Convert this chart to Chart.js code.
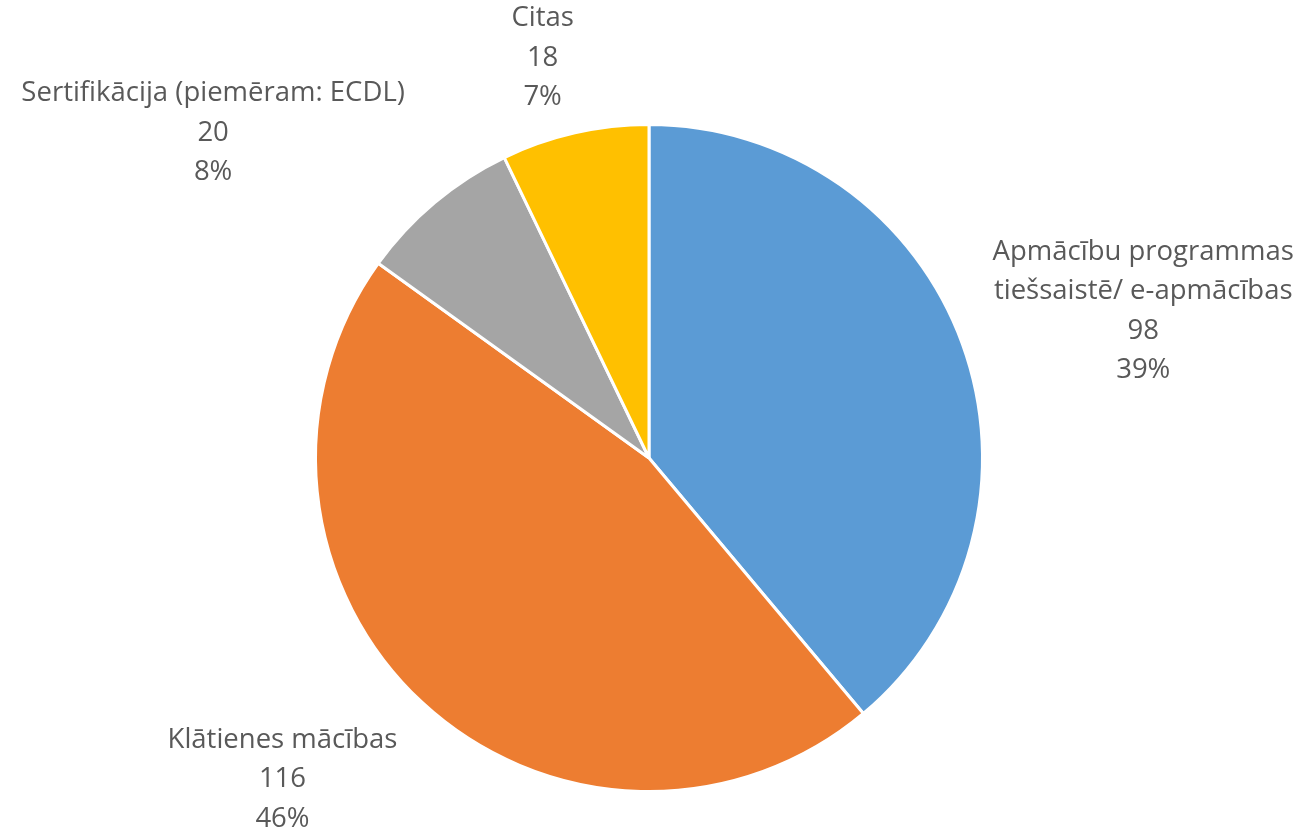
<!DOCTYPE html>
<html>
<head>
<meta charset="utf-8">
<script src="https://cdn.jsdelivr.net/npm/chart.js@4/dist/chart.umd.min.js"></script>
<style>
html,body{margin:0;padding:0;background:#fff;}
#wrap{width:1302px;height:829px;position:relative;}
</style>
</head>
<body>
<div id="wrap"><canvas id="c" width="1302" height="829"></canvas></div>
<script>
const categories = [
  ["Apmācību programmas", "tiešsaistē/ e-apmācības"],
  ["Klātienes mācības"],
  ["Sertifikācija (piemēram: ECDL)"],
  ["Citas"]
];
const values = [98, 116, 20, 18];
const percentLabels = ["39%", "46%", "8%", "7%"];
const colors = ["#5B9BD5", "#ED7D31", "#A5A5A5", "#FFC000"];
// label block offsets relative to pie centre, in units of the pie radius
const labelOffsets = [[1.482, -0.441], [-1.099, 0.964], [-1.307, -0.974], [-0.319, -1.199]];

const labelPlugin = {
  id: 'pieLabels',
  afterDatasetsDraw(chart) {
    const ctx = chart.ctx;
    const meta = chart.getDatasetMeta(0);
    ctx.save();
    ctx.font = '27.5px "Open Sans", Lato, sans-serif';
    ctx.fillStyle = '#595959';
    ctx.textAlign = 'center';
    ctx.textBaseline = 'middle';
    const lh = 39.5;
    meta.data.forEach((arc, i) => {
      const r = arc.outerRadius;
      const cx = arc.x + labelOffsets[i][0] * r;
      const cy = arc.y + labelOffsets[i][1] * r;
      const lines = [...categories[i], String(values[i]), percentLabels[i]];
      const y0 = cy - (lines.length - 1) * lh / 2;
      lines.forEach((t, k) => ctx.fillText(t, cx, y0 + k * lh));
    });
    ctx.restore();
  }
};

new Chart(document.getElementById('c'), {
  type: 'pie',
  data: {
    labels: categories.map(c => c.join(' ')),
    datasets: [{
      data: values,
      backgroundColor: colors,
      borderColor: '#ffffff',
      borderWidth: 3
    }]
  },
  options: {
    responsive: false,
    animation: false,
    layout: { padding: { top: 123, bottom: 36, left: 314, right: 318 } },
    plugins: { legend: { display: false }, tooltip: { enabled: false } }
  },
  plugins: [labelPlugin]
});
</script>
</body>
</html>
